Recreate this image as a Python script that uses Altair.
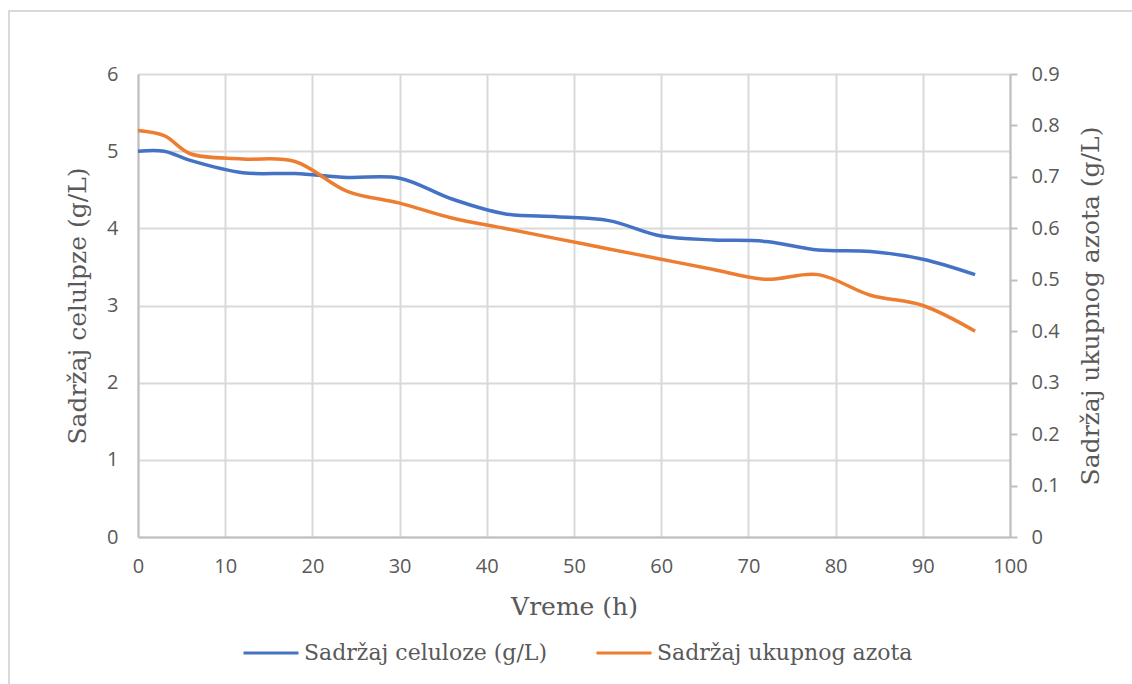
import altair as alt
import pandas as pd

# Data
time_h = [0, 3, 6, 12, 18, 24, 30, 36, 42, 48, 54, 60, 66, 72, 78, 84, 90, 96]
celuloza = [5.00, 5.00, 4.88, 4.72, 4.71, 4.66, 4.65, 4.38, 4.19, 4.15, 4.10, 3.90, 3.85, 3.83, 3.72, 3.70, 3.60, 3.40]
azot = [0.79, 0.78, 0.745, 0.735, 0.730, 0.672, 0.649, 0.620, 0.600, 0.580, 0.560, 0.540, 0.520, 0.501, 0.510, 0.470, 0.450, 0.400]

series_names = ["Sadržaj celuloze (g/L)", "Sadržaj ukupnog azota"]
series_colors = ["#4472C4", "#ED7D31"]

x_ticks = list(range(0, 101, 10))
left_ticks = [0, 1, 2, 3, 4, 5, 6]
right_ticks = [round(i * 0.1, 1) for i in range(10)]

rows = []
for t, c in zip(time_h, celuloza):
    rows.append({"t": t, "v": c, "series": series_names[0]})
for t, a in zip(time_h, azot):
    rows.append({"t": t, "v": a, "series": series_names[1]})
df = pd.DataFrame(rows)

W, H = 872, 463
SERIF = "DejaVu Serif"
SANS = "Open Sans"
GRAY = "#595959"
TITLE_SIZE = 25
LABEL_SIZE = 20

color = alt.Color(
    "series:N",
    scale=alt.Scale(domain=series_names, range=series_colors),
    legend=alt.Legend(
        title=None,
        orient="none",
        direction="horizontal",
        legendX=104,
        legendY=550,
        symbolType="stroke",
        symbolSize=3025,
        symbolStrokeWidth=3,
        labelFont=SERIF,
        labelFontSize=22,
        labelColor=GRAY,
        labelLimit=400,
        columnPadding=42,
        symbolOffset=0,
        labelOffset=4,
    ),
)

xenc = alt.X(
    "t:Q",
    scale=alt.Scale(domain=[0, 100], nice=False, zero=False),
    axis=alt.Axis(
        values=x_ticks,
        title="Vreme (h)",
        titleFont=SERIF,
        titleFontSize=TITLE_SIZE,
        titleFontWeight="normal",
        titleColor=GRAY,
        titleX=W / 2,
        titleY=69,
        titleBaseline="middle",
        titleAlign="center",
        labelFont=SANS,
        labelFontSize=LABEL_SIZE,
        labelColor=GRAY,
        labelPadding=19,
        labelFlush=False,
        ticks=False,
        domainColor="#bfbfbf",
        domainWidth=2,
        grid=True,
        gridColor="#d9d9d9",
        gridWidth=2,
    ),
)

blue = (
    alt.Chart(df)
    .transform_filter(alt.datum.series == series_names[0])
    .mark_line(strokeWidth=3.5, interpolate="catmull-rom")
    .encode(
        x=xenc,
        y=alt.Y(
            "v:Q",
            scale=alt.Scale(domain=[0, 6], nice=False),
            axis=alt.Axis(
                values=left_ticks,
                title="Sadržaj celulpze (g/L)",
                titleFont=SERIF,
                titleFontSize=TITLE_SIZE,
                titleFontWeight="normal",
                titleColor=GRAY,
                titleAngle=-90,
                titleX=-61,
                titleY=H / 2,
                titleAlign="center",
                titleBaseline="middle",
                labelFont=SANS,
                labelFontSize=LABEL_SIZE,
                labelColor=GRAY,
                labelPadding=20,
                labelFlush=False,
                ticks=False,
                domainColor="#bfbfbf",
                domainWidth=2,
                grid=True,
                gridColor="#d9d9d9",
                gridWidth=2,
            ),
        ),
        color=color,
    )
)

orange = (
    alt.Chart(df)
    .transform_filter(alt.datum.series == series_names[1])
    .mark_line(strokeWidth=3.5, interpolate="catmull-rom")
    .encode(
        x=alt.X("t:Q", scale=alt.Scale(domain=[0, 100], nice=False, zero=False)),
        y=alt.Y(
            "v:Q",
            scale=alt.Scale(domain=[0, 0.9], nice=False),
            axis=alt.Axis(
                orient="right",
                values=right_ticks,
                format=".1~f",
                title="Sadržaj ukupnog azota (g/L)",
                titleFont=SERIF,
                titleFontSize=TITLE_SIZE,
                titleFontWeight="normal",
                titleColor=GRAY,
                titleAngle=-90,
                titleX=80,
                titleY=H / 2,
                titleAlign="center",
                titleBaseline="middle",
                labelFont=SANS,
                labelFontSize=LABEL_SIZE,
                labelColor=GRAY,
                labelPadding=14,
                labelFlush=False,
                ticks=True,
                tickSize=7,
                tickColor="#bfbfbf",
                tickWidth=2,
                domainColor="#bfbfbf",
                domainWidth=2,
                grid=False,
            ),
        ),
        color=color,
    )
)

# Decorative outer chart border (top and left edges visible in the reference)
border = alt.Chart(pd.DataFrame({"a": [0]})).mark_rect(
    fill=None, stroke="#d9d9d9", strokeWidth=2, clip=False
).encode(
    x=alt.value(-129), x2=alt.value(W + 200), y=alt.value(-63), y2=alt.value(H + 200)
)

chart = (
    alt.layer(border, blue, orange)
    .resolve_scale(y="independent")
    .properties(
        width=W,
        height=H,
        autosize=alt.AutoSizeParams(type="none"),
        padding={"left": 138, "top": 74, "right": 122, "bottom": 147},
        background="white",
    )
    .configure_view(stroke=None)
)

chart.save("out.html", embed_options={"renderer": "svg", "actions": False})
